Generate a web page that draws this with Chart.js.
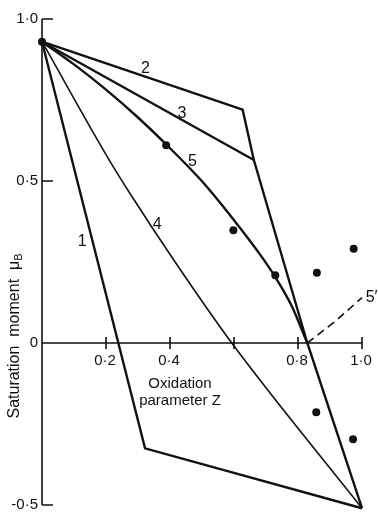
<!DOCTYPE html>
<html>
<head>
<meta charset="utf-8">
<script src="https://cdn.jsdelivr.net/npm/chart.js@4.4.1/dist/chart.umd.min.js"></script>
<style>
  html, body { margin: 0; padding: 0; background: #fff; }
  canvas { display: block; }
</style>
</head>
<body>
<canvas id="myChart" width="378" height="512"></canvas>
<script>
// oxidation parameter Z (x) and saturation moment (y) for each curve
const line1Z = [0, 0.322, 1.0];
const line1M = [0.93, -0.325, -0.51];
const line2Z = [0, 0.627, 0.662];
const line2M = [0.93, 0.72, 0.565];
const line3Z = [0, 0.662, 0.829, 1.0];
const line3M = [0.93, 0.565, 0, -0.51];
const line4Z = [0, 0.213, 0.276, 0.416, 0.593, 1.0];
const line4M = [0.93, 0.56, 0.46, 0.25, 0, -0.51];
const curve5Z = [0, 0.1, 0.2, 0.3, 0.388, 0.5, 0.6, 0.68, 0.73, 0.78, 0.829];
const curve5M = [0.93, 0.86, 0.782, 0.696, 0.613, 0.499, 0.379, 0.275, 0.202, 0.115, 0];
const curve5pZ = [0.829, 0.92, 1.0];
const curve5pM = [0, 0.07, 0.14];

// measured points
const pointsZ = [0, 0.388, 0.598, 0.729, 0.859, 0.974, 0.857, 0.972];
const pointsM = [0.93, 0.61, 0.348, 0.209, 0.217, 0.291, -0.214, -0.297];

// curve numbers and where they sit
const curveNames = ['1', '2', '3', '4', '5', '5′'];
const nameZ = [0.126, 0.323, 0.4375, 0.36, 0.47, 1.03];
const nameM = [0.312, 0.846, 0.707, 0.365, 0.56, 0.141];

// axis ticks
const zTicks = [0.2, 0.4, 0.6, 0.8, 1.0];
const zTickLabels = ['0·2', '0·4', '', '0·8', '1·0'];
const mTicks = [1.0, 0.5, 0, -0.5];
const mTickLabels = ['1·0', '0·5', '0', '-0·5'];

const FONT = '"Liberation Sans", "DejaVu Sans", sans-serif';

function toXY(zs, ms) {
  return zs.map((z, i) => ({ x: z, y: ms[i] }));
}

function lineSet(zs, ms, extra) {
  return Object.assign({
    data: toXY(zs, ms),
    showLine: true,
    borderColor: '#111',
    borderWidth: 2.4,
    pointRadius: 0,
    tension: 0,
    fill: false,
    clip: false
  }, extra || {});
}

// axes drawn by hand so the x axis can sit at M = 0 with ticks crossing it
const axesPlugin = {
  id: 'axes',
  beforeDatasetsDraw(chart) {
    const { ctx, scales: { x, y } } = chart;
    const x0 = x.getPixelForValue(0);
    const y0 = y.getPixelForValue(0);
    ctx.save();
    ctx.strokeStyle = '#111';
    ctx.lineWidth = 1.6;
    ctx.beginPath();
    ctx.moveTo(x0, y.getPixelForValue(1.0));
    ctx.lineTo(x0, y.getPixelForValue(-0.5));
    ctx.moveTo(x0, y0);
    ctx.lineTo(x.getPixelForValue(1.0), y0);
    mTicks.forEach(v => {
      if (v === 0) return;
      const py = y.getPixelForValue(v);
      ctx.moveTo(x0, py);
      ctx.lineTo(x0 + 11, py);
    });
    zTicks.forEach(v => {
      const px = x.getPixelForValue(v);
      ctx.moveTo(px, y0 - 6);
      ctx.lineTo(px, y0 + 6);
    });
    ctx.stroke();

    ctx.fillStyle = '#111';
    ctx.font = '15px ' + FONT;
    ctx.textBaseline = 'middle';
    ctx.textAlign = 'center';
    zTicks.forEach((v, i) => {
      ctx.fillText(zTickLabels[i], x.getPixelForValue(v) - 1, y0 + 18);
    });
    ctx.textAlign = 'right';
    mTicks.forEach((v, i) => {
      ctx.fillText(mTickLabels[i], x0 - 4, y.getPixelForValue(v));
    });

    // x axis title, two lines under the axis
    ctx.font = '15px ' + FONT;
    ctx.textAlign = 'center';
    ctx.fillText('Oxidation', 180, y0 + 41);
    ctx.fillText('parameter Z', 180, y0 + 58);

    // y axis title with subscript
    ctx.translate(15, 336);
    ctx.rotate(-Math.PI / 2);
    ctx.font = '16px ' + FONT;
    ctx.textAlign = 'left';
    const main = 'Saturation  moment  μ';
    const w = ctx.measureText(main).width;
    ctx.font = '11px ' + FONT;
    const wb = ctx.measureText('B').width;
    const start = -(w + wb) / 2;
    ctx.font = '16px ' + FONT;
    ctx.fillText(main, start, 0);
    ctx.font = '11px ' + FONT;
    ctx.fillText('B', start + w, 4);
    ctx.restore();
  },
  afterDatasetsDraw(chart) {
    const { ctx, scales: { x, y } } = chart;
    ctx.save();
    ctx.fillStyle = '#111';
    ctx.font = '16px ' + FONT;
    ctx.textAlign = 'center';
    ctx.textBaseline = 'middle';
    curveNames.forEach((name, i) => {
      ctx.fillText(name, x.getPixelForValue(nameZ[i]), y.getPixelForValue(nameM[i]));
    });
    ctx.restore();
  }
};

new Chart(document.getElementById('myChart'), {
  type: 'scatter',
  data: {
    datasets: [
      lineSet(line1Z, line1M),
      lineSet(line2Z, line2M),
      lineSet(line3Z, line3M),
      lineSet(line4Z, line4M, { borderWidth: 1.6, cubicInterpolationMode: 'monotone' }),
      lineSet(curve5Z, curve5M, { cubicInterpolationMode: 'monotone' }),
      lineSet(curve5pZ, curve5pM, { borderWidth: 1.6, borderDash: [8, 5] }),
      {
        data: toXY(pointsZ, pointsM),
        showLine: false,
        pointRadius: 4,
        pointBackgroundColor: '#111',
        pointBorderColor: '#111',
        pointBorderWidth: 0,
        clip: false
      }
    ]
  },
  options: {
    responsive: false,
    animation: false,
    devicePixelRatio: 1,
    layout: { padding: { left: 42, right: 16, top: 19, bottom: 7 } },
    plugins: {
      legend: { display: false },
      tooltip: { enabled: false }
    },
    scales: {
      x: { type: 'linear', min: 0, max: 1.0, display: false },
      y: { type: 'linear', min: -0.5, max: 1.0, display: false }
    }
  },
  plugins: [axesPlugin]
});
</script>
</body>
</html>
